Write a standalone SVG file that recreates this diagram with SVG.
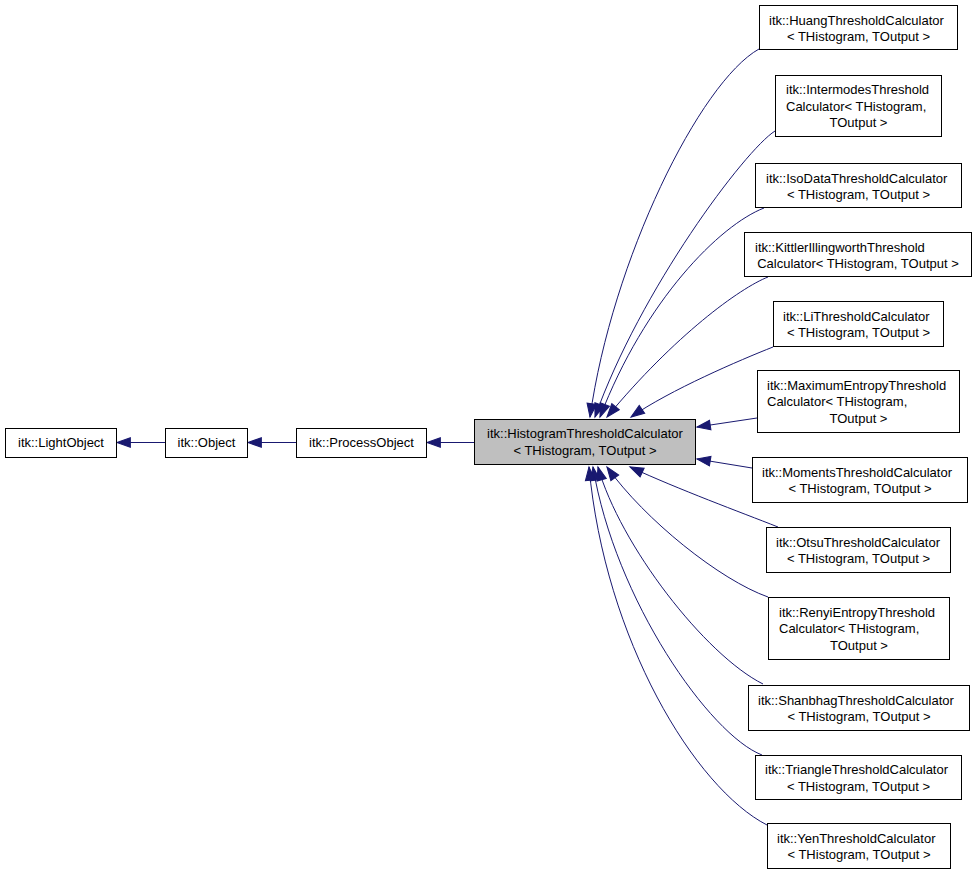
<svg xmlns="http://www.w3.org/2000/svg" width="979" height="875" viewBox="0 0 979 875">
<defs>
<style>
.n rect{fill:#ffffff;stroke:#000000;stroke-width:1}
.c rect{fill:#bfbfbf;stroke:#000000;stroke-width:1}
text{font-family:"Liberation Sans",Arial,Helvetica,sans-serif;font-size:13px;fill:#000000}
.m{text-anchor:middle}
.e path{fill:none;stroke:#191970;stroke-width:1;marker-end:url(#ah)}
</style>
<marker id="ah" markerUnits="userSpaceOnUse" markerWidth="16" markerHeight="12" viewBox="-1 -1 15 11" refX="12.5" refY="4.5" orient="auto" overflow="visible">
<path d="M0,0 L12.5,4.5 L0,9 z" fill="#191970" stroke="#191970" stroke-width="1"/>
</marker>
</defs>
<rect width="979" height="875" fill="#ffffff"/>
<g class="e" id="edges">
<path d="M165,442.5 L117,442.5"/>
<path d="M296,442.5 L248,442.5"/>
<path d="M474,442.5 L427,442.5"/>
<path d="M759,49 C700,82 612,260 590,417"/>
<path d="M775,131 C745,150 640,290 595,417"/>
<path d="M764,208 C720,225 645,300 600,417"/>
<path d="M768,277 C740,288 675,335 607,417"/>
<path d="M773,347 C740,360 670,390 631,417"/>
<path d="M757,418 L697,427"/>
<path d="M752,468 L697,459"/>
<path d="M778,527 C740,512 680,490 630,467"/>
<path d="M768,597 C720,580 645,520 607,467"/>
<path d="M763,684 C705,655 620,545 598,467"/>
<path d="M762,755 C710,735 615,600 593,467"/>
<path d="M767,825 C695,788 605,640 589,467"/>
</g>
<g class="n" id="LightObject"><rect x="5.5" y="428.5" width="111" height="29"/><text x="61" y="447" class="m">itk::LightObject</text></g>
<g class="n" id="Object"><rect x="165.5" y="428.5" width="82" height="29"/><text x="206.5" y="447" class="m">itk::Object</text></g>
<g class="n" id="ProcessObject"><rect x="296.5" y="428.5" width="130" height="29"/><text x="361.5" y="447" class="m">itk::ProcessObject</text></g>
<g class="c" id="HistogramThresholdCalculator"><rect x="474.5" y="419.5" width="221" height="45"/><text x="585" y="438" class="m">itk::HistogramThresholdCalculator</text><text x="585" y="455" class="m">&lt; THistogram, TOutput &gt;</text></g>
<g class="n" id="Huang"><rect x="759.5" y="5.5" width="198" height="44"/><text x="769" y="24.5">itk::HuangThresholdCalculator</text><text x="858.5" y="41" class="m">&lt; THistogram, TOutput &gt;</text></g>
<g class="n" id="Intermodes"><rect x="775.5" y="75.5" width="166" height="61"/><text x="786" y="94">itk::IntermodesThreshold</text><text x="786" y="110.5">Calculator&lt; THistogram,</text><text x="858.5" y="127" class="m">TOutput &gt;</text></g>
<g class="n" id="IsoData"><rect x="755.5" y="163.5" width="206" height="44"/><text x="766" y="182.5">itk::IsoDataThresholdCalculator</text><text x="858.5" y="199" class="m">&lt; THistogram, TOutput &gt;</text></g>
<g class="n" id="Kittler"><rect x="744.5" y="232.5" width="227" height="44"/><text x="755" y="251.5">itk::KittlerIllingworthThreshold</text><text x="858" y="268" class="m">Calculator&lt; THistogram, TOutput &gt;</text></g>
<g class="n" id="Li"><rect x="773.5" y="301.5" width="170" height="45"/><text x="783" y="320.5">itk::LiThresholdCalculator</text><text x="858.5" y="337" class="m">&lt; THistogram, TOutput &gt;</text></g>
<g class="n" id="MaximumEntropy"><rect x="757.5" y="370.5" width="202" height="62"/><text x="767" y="389.5">itk::MaximumEntropyThreshold</text><text x="767" y="406">Calculator&lt; THistogram,</text><text x="858.5" y="422.5" class="m">TOutput &gt;</text></g>
<g class="n" id="Moments"><rect x="752.5" y="457.5" width="215" height="45"/><text x="762" y="476.5">itk::MomentsThresholdCalculator</text><text x="860" y="493" class="m">&lt; THistogram, TOutput &gt;</text></g>
<g class="n" id="Otsu"><rect x="766.5" y="527.5" width="184" height="45"/><text x="776" y="546.5">itk::OtsuThresholdCalculator</text><text x="858.5" y="563" class="m">&lt; THistogram, TOutput &gt;</text></g>
<g class="n" id="RenyiEntropy"><rect x="768.5" y="597.5" width="181" height="62"/><text x="779" y="616.5">itk::RenyiEntropyThreshold</text><text x="779" y="633">Calculator&lt; THistogram,</text><text x="859" y="649.5" class="m">TOutput &gt;</text></g>
<g class="n" id="Shanbhag"><rect x="748.5" y="685.5" width="221" height="45"/><text x="758" y="704.5">itk::ShanbhagThresholdCalculator</text><text x="859" y="721" class="m">&lt; THistogram, TOutput &gt;</text></g>
<g class="n" id="Triangle"><rect x="755.5" y="755.5" width="206" height="44"/><text x="765" y="774">itk::TriangleThresholdCalculator</text><text x="858.5" y="790.5" class="m">&lt; THistogram, TOutput &gt;</text></g>
<g class="n" id="Yen"><rect x="767.5" y="823.5" width="183" height="45"/><text x="777" y="842.5">itk::YenThresholdCalculator</text><text x="859" y="859" class="m">&lt; THistogram, TOutput &gt;</text></g>
</svg>
